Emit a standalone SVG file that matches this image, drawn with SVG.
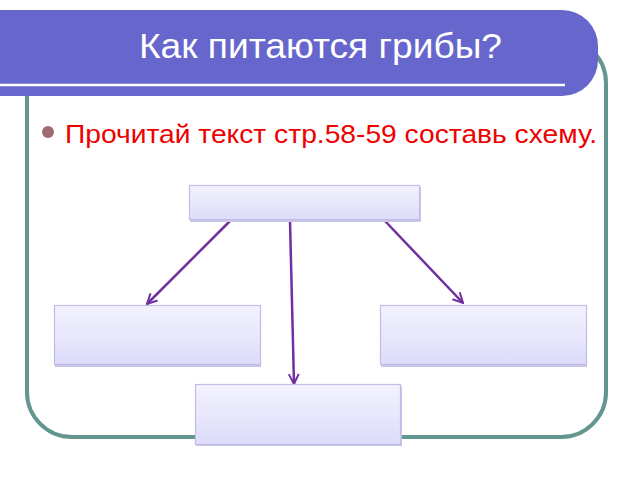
<svg xmlns="http://www.w3.org/2000/svg" width="640" height="480" viewBox="0 0 640 480">
  <defs>
    <linearGradient id="boxGrad" x1="0" y1="0" x2="0" y2="1">
      <stop offset="0" stop-color="#F3F2FE"/>
      <stop offset="1" stop-color="#DDDCFA"/>
    </linearGradient>
    <marker id="arrow" viewBox="0 0 12 12" refX="11" refY="6" markerWidth="12" markerHeight="12" markerUnits="userSpaceOnUse" orient="auto">
      <path d="M1,1 L11,6 L1,11" fill="none" stroke="#7030A0" stroke-width="2"/>
    </marker>
    <style>
      .box { fill: url(#boxGrad); stroke: #C3BCEA; stroke-width: 1.2; }
      .shadow { fill: #C9C6E6; }
      .conn { stroke: #7030A0; stroke-width: 2.5; fill: none; marker-end: url(#arrow); }
    </style>
  </defs>
  <rect width="640" height="480" fill="#FFFFFF"/>
  <!-- frame -->
  <rect x="27" y="38" width="579" height="399" rx="45" ry="45" fill="none" stroke="#63968E" stroke-width="4"/>
  <!-- title bar -->
  <path d="M0,10 L562,10 A36,36 0 0 1 598,46 L598,60 A36,36 0 0 1 562,96 L0,96 Z" fill="#6666CC"/>
  <line x1="0" y1="85" x2="565" y2="85" stroke="#FFFFFF" stroke-width="2.5"/>
  <text x="139" y="58" font-family="Liberation Sans, Arial, sans-serif" font-size="35" fill="#FFFFFF" textLength="363" lengthAdjust="spacingAndGlyphs">Как питаются грибы?</text>
  <!-- bullet text -->
  <circle cx="48" cy="132" r="6" fill="#9E6B6E"/>
  <text x="65" y="143" font-family="Liberation Sans, Arial, sans-serif" font-size="26" fill="#EE0000" textLength="532" lengthAdjust="spacingAndGlyphs">Прочитай текст стр.58-59 составь схему.</text>
  <!-- connectors -->
  <g id="connectors">
    <line class="conn" x1="230" y1="221" x2="147" y2="304"/>
    <line class="conn" x1="290" y1="221" x2="294" y2="384"/>
    <line class="conn" x1="385" y1="221" x2="463" y2="303"/>
  </g>
  <!-- nodes -->
  <g id="node-top">
    <rect class="shadow" x="190" y="187" width="231" height="35"/>
    <rect class="box" x="189.5" y="185.5" width="230" height="34"/>
  </g>
  <g id="node-left">
    <rect class="shadow" x="55" y="307" width="206" height="60"/>
    <rect class="box" x="54.5" y="305.5" width="206" height="59"/>
  </g>
  <g id="node-right">
    <rect class="shadow" x="381" y="307" width="206" height="60"/>
    <rect class="box" x="380.5" y="305.5" width="206" height="59"/>
  </g>
  <g id="node-bottom">
    <rect class="shadow" x="196" y="386" width="206" height="60"/>
    <rect class="box" x="195.5" y="384.5" width="205" height="60"/>
  </g>
</svg>
